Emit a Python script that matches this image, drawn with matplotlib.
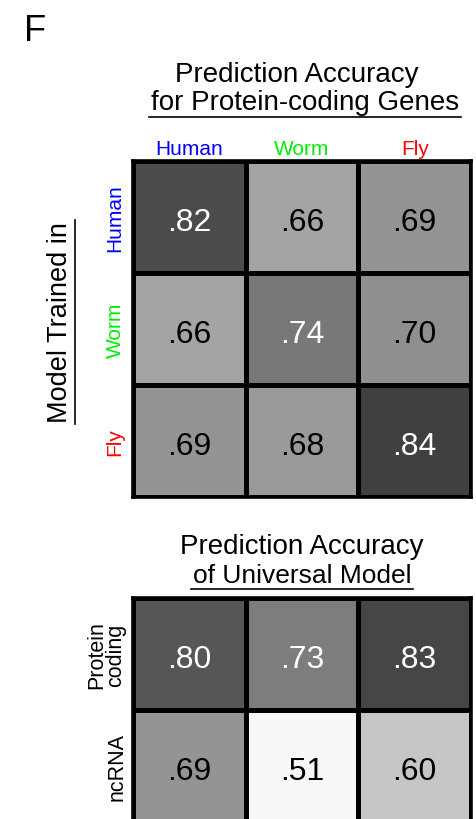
import numpy as np
import matplotlib
matplotlib.use("Agg")
import matplotlib.pyplot as plt
from matplotlib.colors import LinearSegmentedColormap, Normalize
from matplotlib.lines import Line2D

# --- data ---
species = ["Human", "Worm", "Fly"]
species_colors = ["#0000ff", "#00ee00", "#ff0000"]
cross_acc = [[0.82, 0.66, 0.69],
             [0.66, 0.74, 0.70],
             [0.69, 0.68, 0.84]]
universal_rows = ["Protein\ncoding", "ncRNA"]
universal_acc = [[0.80, 0.73, 0.83],
                 [0.69, 0.51, 0.60]]

plt.rcParams["font.family"] = ["Liberation Sans", "DejaVu Sans"]

W, H = 476, 820
fig = plt.figure(figsize=(W / 100, H / 100), dpi=100)


def fx(x):
    return x / W


def fy(y):
    return 1 - y / H


cmap = LinearSegmentedColormap.from_list("gr", ["#f8f8f8", "#383838"])
norm = Normalize(vmin=0.51, vmax=0.855)


def grid(ax, vals):
    vals = np.array(vals)
    nr, nc = vals.shape
    ax.pcolormesh(np.arange(nc + 1), np.arange(nr + 1), vals, cmap=cmap, norm=norm,
                  edgecolors="black", linewidth=2.3)
    ax.set_xlim(0, nc)
    ax.set_ylim(nr, 0)
    ax.set_xticks([])
    ax.set_yticks([])
    for s in ax.spines.values():
        s.set_linewidth(2.6)
    for i in range(nr):
        for j in range(nc):
            v = vals[i, j]
            # baseline a bit below the cell centre, as in the original
            ax.text(j + 0.5, i + 0.62, f"{v:.2f}"[1:], ha="center", va="baseline",
                    fontsize=23, color="white" if v >= 0.72 else "black")


# --- top panel ---
ax1 = fig.add_axes([fx(133), fy(498), fx(471 - 133), (498 - 162) / H])
grid(ax1, cross_acc)

# --- bottom panel ---
ax2 = fig.add_axes([fx(133), fy(823), fx(471 - 133), (823 - 599) / H])
grid(ax2, universal_acc)

fig.text(fx(24), fy(41), "F", fontsize=26, va="baseline", ha="left")

fig.text(fx(297), fy(82), "Prediction Accuracy", fontsize=20, ha="center", va="baseline")
t1 = fig.text(fx(305), fy(110), "for Protein-coding Genes", fontsize=20, ha="center", va="baseline")

fig.text(fx(302), fy(554), "Prediction Accuracy", fontsize=20, ha="center", va="baseline")
t2 = fig.text(fx(302), fy(583), "of Universal Model", fontsize=19, ha="center", va="baseline")

for j, (name, c) in enumerate(zip(species, species_colors)):
    fig.text(fx(133 + 112.7 * (j + 0.5)), fy(155), name, color=c, fontsize=15,
             ha="center", va="baseline")
    fig.text(fx(115), fy(162 + 112 * (j + 0.5)), name, color=c, fontsize=15,
             ha="center", va="center", rotation=90)

t3 = fig.text(fx(60), fy(323), "Model Trained in", fontsize=19.5, ha="center", va="center",
              rotation=90)

fig.text(fx(106), fy(655), universal_rows[0], fontsize=15.5, ha="center", va="center",
         rotation=90, linespacing=0.9)
fig.text(fx(117), fy(767), universal_rows[1], fontsize=15.5, ha="center", va="center",
         rotation=90)

# underlines drawn from the text extents
fig.canvas.draw()
r = fig.canvas.get_renderer()
inv = fig.transFigure.inverted()
for t in (t1, t2):
    bb = t.get_window_extent(r).transformed(inv)
    fig.add_artist(Line2D([bb.x0 - 0.004, bb.x1 + 0.004], [bb.y0 - 0.002, bb.y0 - 0.002],
                          color="black", lw=1.2, transform=fig.transFigure))
bb = t3.get_window_extent(r).transformed(inv)
fig.add_artist(Line2D([bb.x1 + 0.004, bb.x1 + 0.004], [bb.y0 - 0.002, bb.y1 + 0.002],
                      color="black", lw=1.2, transform=fig.transFigure))

fig.savefig("out.png", dpi=100)
